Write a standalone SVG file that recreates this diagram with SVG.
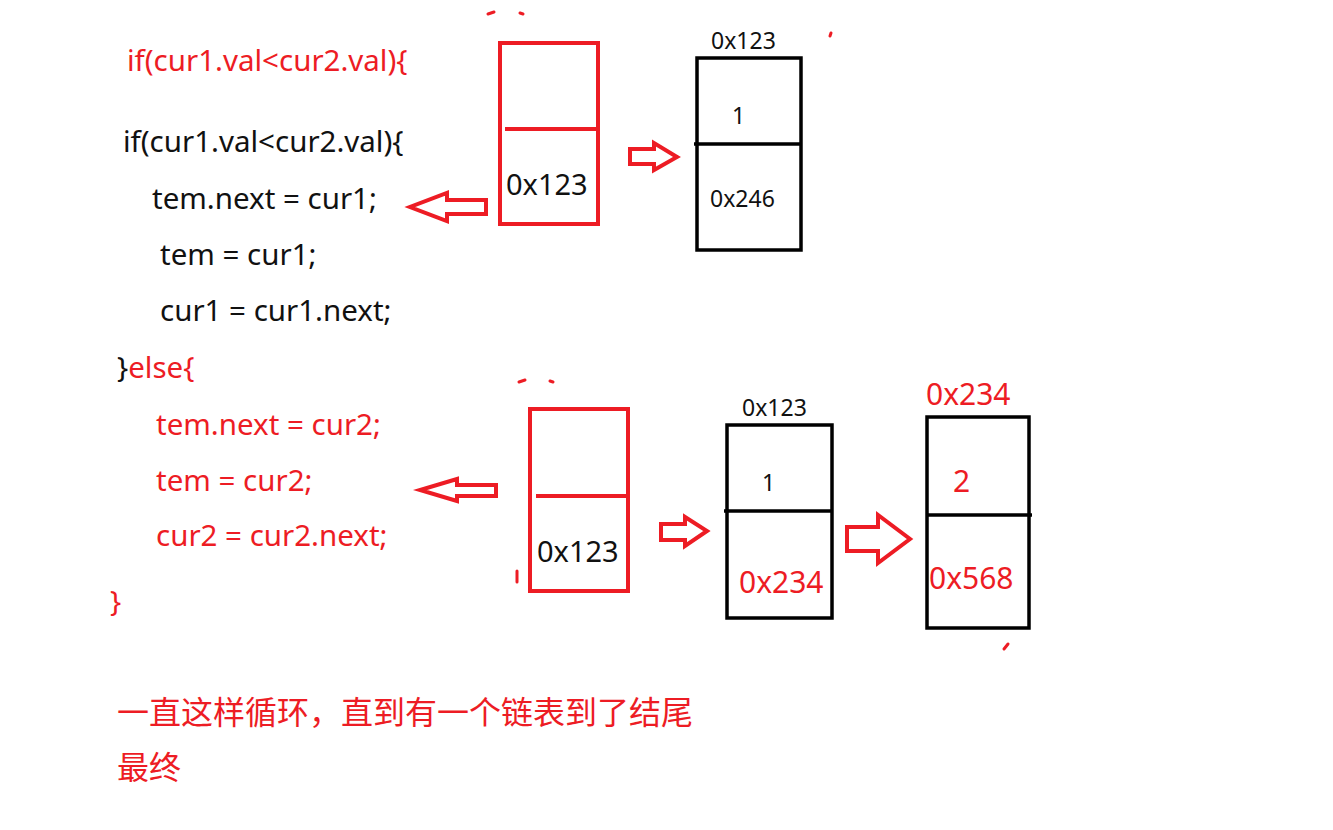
<svg xmlns="http://www.w3.org/2000/svg" width="1333" height="830" viewBox="0 0 1333 830">
<style>
.t{font-family:"Noto Sans","Liberation Sans","Noto Sans CJK SC",sans-serif;}
.code{font-size:29.5px;}
.r{fill:#ed1c24;}
.k{fill:#111;}
.rbox{fill:none;stroke:#ed1c24;stroke-width:4;}
.kbox{fill:none;stroke:#000;stroke-width:3.5;}
.rl{stroke:#ed1c24;stroke-width:4;fill:none;}
.kl{stroke:#000;stroke-width:3.5;fill:none;}
.arr{fill:none;stroke:#ed1c24;stroke-width:4;stroke-linejoin:miter;}
.cn{font-family:"Noto Sans CJK SC","Noto Sans",sans-serif;font-size:32px;}
</style>
<rect width="1333" height="830" fill="#fff"/>

<g id="code">
<text class="t code r" x="127" y="71">if(cur1.val&lt;cur2.val){</text>
<text class="t code k" x="123" y="152">if(cur1.val&lt;cur2.val){</text>
<text class="t code k" x="152" y="209">tem.next = cur1;</text>
<text class="t code k" x="160" y="265">tem = cur1;</text>
<text class="t code k" x="160" y="321">cur1 = cur1.next;</text>
<text class="t code" x="117" y="378"><tspan class="k">}</tspan><tspan class="r">else{</tspan></text>
<text class="t code r" x="156" y="435">tem.next = cur2;</text>
<text class="t code r" x="156" y="491">tem = cur2;</text>
<text class="t code r" x="156" y="546">cur2 = cur2.next;</text>
<text class="t code r" x="110" y="612">}</text>
</g>

<g id="tem-top">
<rect class="rbox" x="500" y="43" width="98" height="181"/>
<line class="rl" x1="505" y1="129" x2="597" y2="129"/>
<text class="t k" x="506" y="195" font-size="29">0x123</text>
</g>

<g id="node-top">
<text class="t k" x="711" y="49" font-size="23">0x123</text>
<rect class="kbox" x="697" y="58" width="104" height="192"/>
<line class="kl" x1="694" y1="144" x2="801" y2="144"/>
<text class="t k" x="732" y="124" font-size="23">1</text>
<text class="t k" x="710" y="207" font-size="23">0x246</text>
</g>

<g id="tem-bottom">
<rect class="rbox" x="530" y="409" width="98" height="182"/>
<line class="rl" x1="536" y1="496" x2="627" y2="496"/>
<text class="t k" x="537" y="562" font-size="29">0x123</text>
</g>

<g id="node-mid">
<text class="t k" x="742" y="416" font-size="23">0x123</text>
<rect class="kbox" x="727" y="425" width="105" height="193"/>
<line class="kl" x1="724" y1="511" x2="832" y2="511"/>
<text class="t k" x="762" y="491" font-size="23">1</text>
<text class="t r" x="739" y="593" font-size="30">0x234</text>
</g>

<g id="node-right">
<text class="t r" x="926" y="405" font-size="30">0x234</text>
<rect class="kbox" x="927" y="417" width="102" height="211"/>
<line class="kl" x1="927" y1="515" x2="1032" y2="515"/>
<text class="t r" x="953" y="492" font-size="30">2</text>
<text class="t r" x="929" y="589" font-size="30">0x568</text>
</g>

<g id="connectors">
<polygon class="arr" points="486,200 447,200 447,193 410,207 447,221 447,214 486,214"/>
<polygon class="arr" points="630,149 654,149 654,143 677,157 654,170 654,164 630,164"/>
<polygon class="arr" points="496,485 457,485 457,479 420,490 457,501 457,496 496,496"/>
<polygon class="arr" points="661,524 685,524 685,517 707,531 685,546 685,540 661,540"/>
<polygon class="arr" points="847,527 878,527 878,515 910,539 878,563 878,551 847,551"/>
</g>

<g id="marks" stroke="#ed1c24" stroke-width="3" fill="none" stroke-linecap="round">
<path d="M488,14 L494,12"/>
<path d="M520,13 L523,14"/>
<path d="M830,36 L831,33"/>
<path d="M1004,649 L1008,644"/>
<path d="M517,571 L517,582"/>
<path d="M519,382 L525,380"/>
<path d="M550,381 L553,382"/>
</g>

<g id="note">
<text class="cn r" x="117" y="724">一直这样循环，直到有一个链表到了结尾</text>
<text class="cn r" x="117" y="779">最终</text>
</g>
</svg>
